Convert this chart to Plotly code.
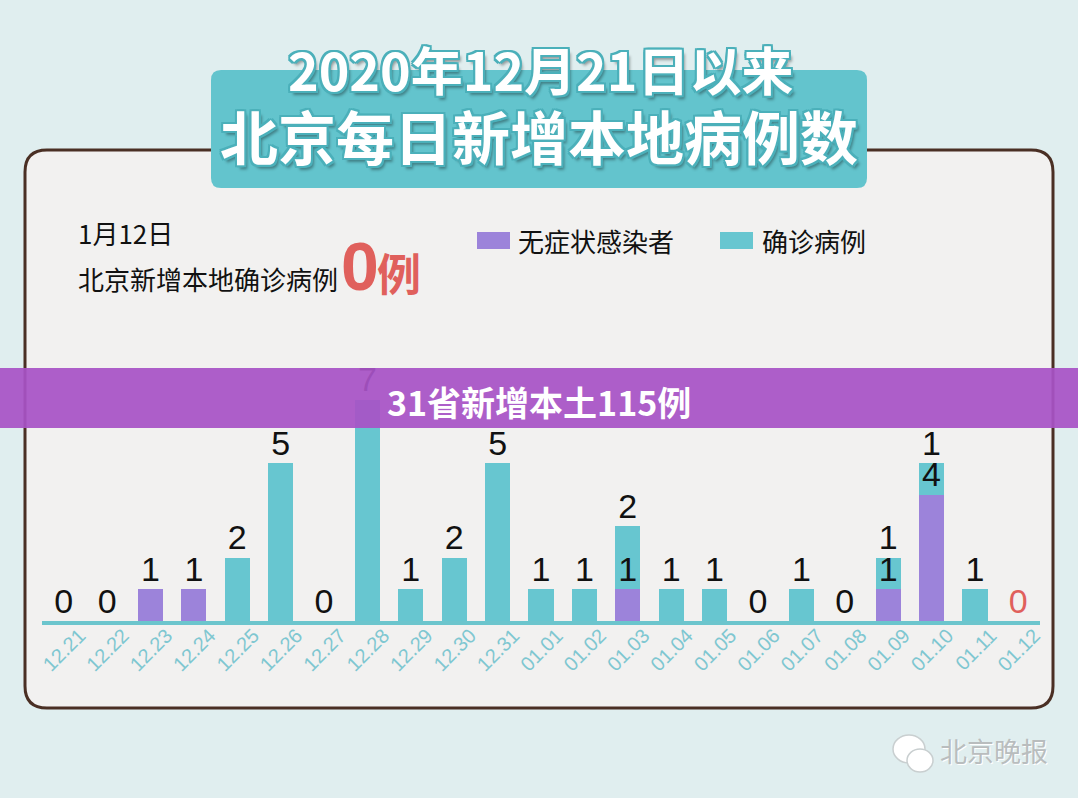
import plotly.graph_objects as go

W, H = 1078, 798

# data
dates = ['12.21', '12.22', '12.23', '12.24', '12.25', '12.26', '12.27', '12.28',
         '12.29', '12.30', '12.31', '01.01', '01.02', '01.03', '01.04', '01.05',
         '01.06', '01.07', '01.08', '01.09', '01.10', '01.11', '01.12']
asymptomatic = [0, 0, 1, 1, 0, 0, 0, 0, 0, 0, 0, 0, 0, 1, 0, 0, 0, 0, 0, 1, 4, 0, 0]
confirmed = [0, 0, 0, 0, 2, 5, 0, 7, 1, 2, 5, 1, 1, 2, 1, 1, 0, 1, 0, 1, 1, 1, 0]

PURPLE = '#9c83da'
CYAN = '#67c6d0'
RED = '#e0605c'
CJK = 'Noto Sans CJK SC'
NUM = 'Liberation Sans, Arial, sans-serif'


def px(x):
    return x / W


def py(y):
    return 1 - y / H


def rounded_rect(x0, y0, x1, y1, r):
    # pixel coords (y down) -> paper path with round corners
    return (f"M {px(x0 + r)},{py(y0)} L {px(x1 - r)},{py(y0)} "
            f"Q {px(x1)},{py(y0)} {px(x1)},{py(y0 + r)} L {px(x1)},{py(y1 - r)} "
            f"Q {px(x1)},{py(y1)} {px(x1 - r)},{py(y1)} L {px(x0 + r)},{py(y1)} "
            f"Q {px(x0)},{py(y1)} {px(x0)},{py(y1 - r)} L {px(x0)},{py(y0 + r)} "
            f"Q {px(x0)},{py(y0)} {px(x0 + r)},{py(y0)} Z")


fig = go.Figure()

fig.add_trace(go.Bar(x=dates, y=asymptomatic, marker=dict(color=PURPLE, line_width=0),
                     name='无症状感染者', hoverinfo='skip'))
fig.add_trace(go.Bar(x=dates, y=confirmed, marker=dict(color=CYAN, line_width=0),
                     name='确诊病例', hoverinfo='skip'))

# value labels, each sits on top of its own segment
lab_x, lab_y, lab_t, lab_c = [], [], [], []
for i, d in enumerate(dates):
    a, c = asymptomatic[i], confirmed[i]
    if a > 0:
        lab_x.append(d); lab_y.append(a); lab_t.append(str(a)); lab_c.append('#111111')
    if c > 0:
        lab_x.append(d); lab_y.append(a + c); lab_t.append(str(c)); lab_c.append('#111111')
    if a + c == 0:
        lab_x.append(d); lab_y.append(0); lab_t.append('0')
        lab_c.append(RED if i == len(dates) - 1 else '#111111')

fig.add_trace(go.Scatter(x=lab_x, y=lab_y, text=lab_t, mode='text',
                         textposition='top center',
                         textfont=dict(family=NUM, size=34, color=lab_c),
                         hoverinfo='skip', showlegend=False))

shapes = [
    # card
    dict(type='path', path=rounded_rect(25, 150, 1053, 708, 22), xref='paper', yref='paper',
         fillcolor='#f2f1f0', line=dict(color='#4a2f24', width=3), layer='below'),
    # title box
    dict(type='path', path=rounded_rect(211, 70, 867, 188, 10), xref='paper', yref='paper',
         fillcolor='#63c4cd', line=dict(width=0), layer='below'),
    # legend swatches
    dict(type='rect', xref='paper', yref='paper', x0=px(477), x1=px(510), y0=py(249), y1=py(232),
         fillcolor=PURPLE, line_width=0),
    dict(type='rect', xref='paper', yref='paper', x0=px(720), x1=px(753), y0=py(249), y1=py(232),
         fillcolor=CYAN, line_width=0),
    # purple banner across the picture
    dict(type='rect', xref='paper', yref='paper', x0=0, x1=1, y0=py(428), y1=py(368),
         fillcolor='#a853c6', opacity=0.93, line_width=0, layer='above'),
    # wechat icon
    dict(type='circle', xref='paper', yref='paper', x0=px(893), x1=px(925), y0=py(763), y1=py(735),
         fillcolor='#ffffff', line=dict(color='#c9cfd0', width=1.5)),
    dict(type='circle', xref='paper', yref='paper', x0=px(907), x1=px(933), y0=py(772), y1=py(749),
         fillcolor='#ffffff', line=dict(color='#c9cfd0', width=1.5)),
]

outline = ('-2px -2px 0 #4bb0ba, 2px -2px 0 #4bb0ba, -2px 2px 0 #4bb0ba, 2px 2px 0 #4bb0ba, '
           '0 -2px 0 #4bb0ba, 0 2px 0 #4bb0ba, -2px 0 0 #4bb0ba, 2px 0 0 #4bb0ba, '
           '3px 4px 3px rgba(0,0,0,0.35)')

annotations = [
    dict(text='2020年12月21日以来', x=px(540), y=py(68),
         font=dict(family=CJK, size=52, color='white', weight='bold', shadow=outline)),
    dict(text='北京每日新增本地病例数', x=px(539), y=py(135),
         font=dict(family=CJK, size=58, color='white', weight='bold', shadow=outline)),
    dict(text='1月12日', x=px(76), y=py(233), xanchor='left',
         font=dict(family=CJK, size=26, color='#111111')),
    dict(text='北京新增本地确诊病例', x=px(76), y=py(278), xanchor='left',
         font=dict(family=CJK, size=26, color='#111111')),
    dict(text='<b>0</b>', x=px(339), y=py(266), xanchor='left',
         font=dict(family=NUM, size=68, color=RED)),
    dict(text='<b>例</b>', x=px(375), y=py(272), xanchor='left',
         font=dict(family=CJK, size=44, color=RED)),
    dict(text='无症状感染者', x=px(516), y=py(241), xanchor='left',
         font=dict(family=CJK, size=26, color='#111111')),
    dict(text='确诊病例', x=px(760), y=py(241), xanchor='left',
         font=dict(family=CJK, size=26, color='#111111')),
    dict(text='<b>31省新增本土115例</b>', x=px(539), y=py(401),
         font=dict(family=CJK, size=34, color='white')),
    dict(text='北京晚报', x=px(938), y=py(750), xanchor='left',
         font=dict(family=CJK, size=27, color='#b9bdbe', shadow='1px 1px 0 #ffffff')),
]
for a in annotations:
    a.setdefault('xref', 'paper')
    a.setdefault('yref', 'paper')
    a.setdefault('showarrow', False)
    a.setdefault('xanchor', 'center')
    a.setdefault('yanchor', 'middle')

fig.update_layout(
    width=W, height=H,
    margin=dict(l=0, r=0, t=0, b=0, pad=0),
    paper_bgcolor='#e0eeef',
    plot_bgcolor='rgba(0,0,0,0)',
    barmode='stack',
    bargap=0.42,
    showlegend=False,
    shapes=shapes,
    annotations=annotations,
    xaxis=dict(type='category', domain=[px(42), px(1040)], range=[-0.5, 22.5],
               automargin=False,
               showline=True, linecolor='#6cc5cd', linewidth=4,
               showgrid=False, zeroline=False, ticks='',
               tickangle=-45, ticklabelshift=16, ticklabelstandoff=-9,
               tickfont=dict(family=NUM, size=20, color='#7fc7d1')),
    yaxis=dict(domain=[1 - 621 / H, 1 - 305 / H], range=[0, 10], automargin=False,
               showgrid=False, zeroline=False, showticklabels=False, showline=False),
)

fig.write_html('out.html', config={'displayModeBar': False},
               post_script="document.body.style.margin='0';")
